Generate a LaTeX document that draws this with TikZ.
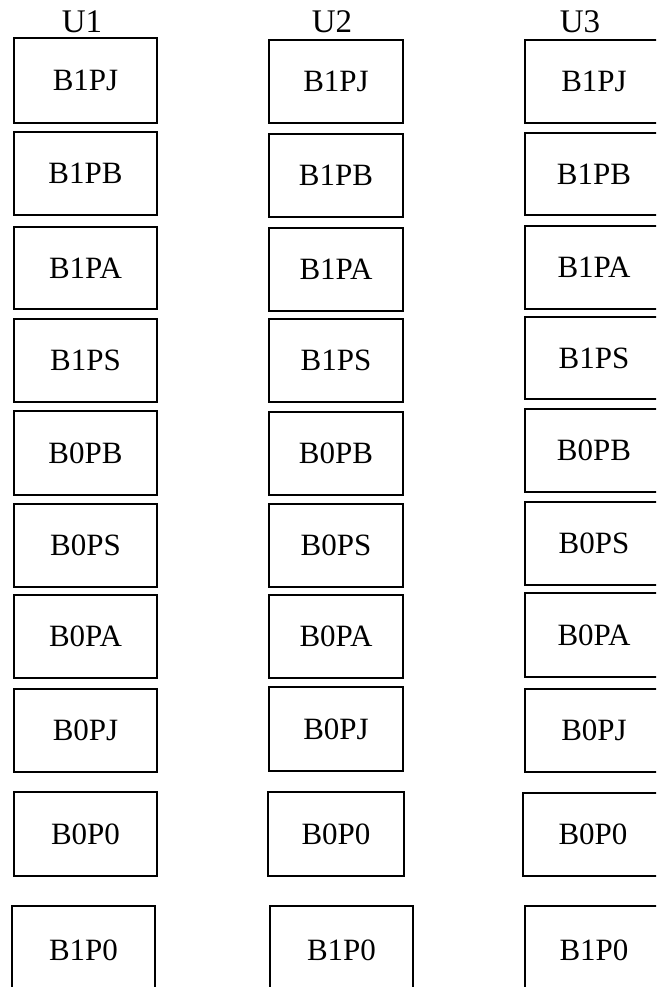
\documentclass[tikz,border=0pt]{standalone}
\usepackage{fontspec}
\setmainfont{Liberation Serif}
\usepackage{tikz}
\usetikzlibrary{positioning}

\begin{document}
\begin{tikzpicture}[x=1pt,y=-1pt,
		blk/.style={draw,line width=1.5pt,inner sep=0pt,font=\fontsize{31}{36}\selectfont},
		hdr/.style={inner sep=0pt,anchor=base,font=\fontsize{33}{38}\selectfont}]
		\useasboundingbox (0,0) rectangle (656,987);
		\clip (0,0) rectangle (656,987);

		% Column headers
		\node[hdr] (h1) at (82,33) {U1};
		\node[hdr] (h2) at (332,33) {U2};
		\node[hdr] (h3) at (580,33) {U3};

		% Column U1
		\foreach \t/\l/\r/\a/\b [count=\i] in {B1PJ/14/157/38/123, B1PB/14/157/132/215, B1PA/14/157/227/309,
				B1PS/14/157/319/402, B0PB/14/157/411/495, B0PS/14/157/504/587, B0PA/14/157/595/678,
				B0PJ/14/157/689/772, B0P0/14/157/792/876, B1P0/12/155/906/995}
			\node[blk,minimum width={\r-\l},minimum height={\b-\a}] (ua\i) at ({(\l+\r)/2},{(\a+\b)/2}) {\t};

		% Column U2
		\foreach \t/\l/\r/\a/\b [count=\i] in {B1PJ/269/403/40/123, B1PB/269/403/134/217, B1PA/269/403/228/311,
				B1PS/269/403/319/402, B0PB/269/403/412/495, B0PS/269/403/504/587, B0PA/269/403/595/678,
				B0PJ/269/403/687/771, B0P0/268/404/792/876, B1P0/270/413/906/995}
			\node[blk,minimum width={\r-\l},minimum height={\b-\a}] (ub\i) at ({(\l+\r)/2},{(\a+\b)/2}) {\t};

		% Column U3 (cut at the right edge)
		\foreach \t/\l/\r/\a/\b [count=\i] in {B1PJ/525/663/40/123, B1PB/525/663/133/215, B1PA/525/663/226/309,
				B1PS/525/663/317/399, B0PB/525/663/409/492, B0PS/525/663/502/585, B0PA/525/663/593/677,
				B0PJ/525/663/689/772, B0P0/523/663/793/876, B1P0/525/663/906/995}
			\node[blk,minimum width={\r-\l},minimum height={\b-\a}] (uc\i) at ({(\l+\r)/2},{(\a+\b)/2}) {\t};
	\end{tikzpicture}
\end{document}
